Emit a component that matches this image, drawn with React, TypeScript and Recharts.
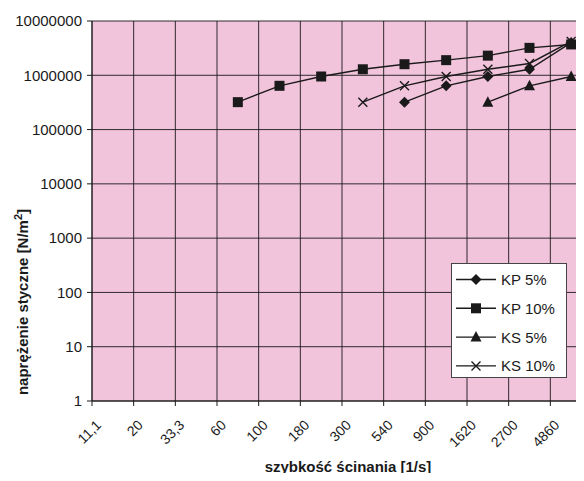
import React from "react"
import {
  CartesianGrid,
  Legend,
  Line,
  LineChart,
  XAxis,
  YAxis,
} from "recharts"

const categories = ["11,1", "20", "33,3", "60", "100", "180", "300", "540", "900", "1620", "2700", "4860"]

const kp5 = [null, null, null, null, null, null, null, 320000, 640000, 950000, 1290000, 4000000]
const kp10 = [null, null, null, 320000, 640000, 950000, 1290000, 1600000, 1900000, 2300000, 3200000, 3700000]
const ks5 = [null, null, null, null, null, null, null, null, null, 320000, 640000, 950000]
const ks10 = [null, null, null, null, null, null, 320000, 640000, 950000, 1290000, 1650000, 4200000]

const yTicks = [1, 10, 100, 1000, 10000, 100000, 1000000, 10000000]

const FONT = '"Liberation Sans", Arial, sans-serif'
const INK = "#1a1a1a"
const PINK = "#f2c4dc"

// x sits in the middle of each category slot, so grid lines fall on the slot edges
const data = categories.map((cat, i) => ({
  x: i + 0.5,
  cat,
  kp5: kp5[i],
  kp10: kp10[i],
  ks5: ks5[i],
  ks10: ks10[i],
}))

type Marker = "diamond" | "square" | "triangle" | "cross"

const series: { key: string; name: string; marker: Marker }[] = [
  { key: "kp5", name: "KP 5%", marker: "diamond" },
  { key: "kp10", name: "KP 10%", marker: "square" },
  { key: "ks5", name: "KS 5%", marker: "triangle" },
  { key: "ks10", name: "KS 10%", marker: "cross" },
]

function markerShape(marker: Marker, cx: number, cy: number, key?: string | number) {
  if (cx == null || cy == null || isNaN(cx) || isNaN(cy)) return <g key={key} />
  switch (marker) {
    case "diamond":
      return (
        <path key={key} d={`M${cx},${cy - 5.5}L${cx + 5.5},${cy}L${cx},${cy + 5.5}L${cx - 5.5},${cy}Z`} fill={INK} />
      )
    case "square":
      return <rect key={key} x={cx - 5} y={cy - 5} width={10} height={10} fill={INK} />
    case "triangle":
      return (
        <path key={key} d={`M${cx},${cy - 6}L${cx + 5.5},${cy + 4.5}L${cx - 5.5},${cy + 4.5}Z`} fill={INK} />
      )
    default:
      return (
        <path
          key={key}
          d={`M${cx - 4.5},${cy - 4.5}L${cx + 4.5},${cy + 4.5}M${cx + 4.5},${cy - 4.5}L${cx - 4.5},${cy + 4.5}`}
          stroke={INK}
          strokeWidth={1.4}
          fill="none"
        />
      )
  }
}

function XTick(props: any) {
  const { x, y, payload } = props
  const label = categories[payload.value]
  if (label == null) return null
  const tx = x + 10
  const ty = y + 18
  return (
    <text
      x={tx}
      y={ty}
      textAnchor="end"
      transform={`rotate(-45 ${tx} ${ty})`}
      fontSize={14}
      fontFamily={FONT}
      fill={INK}
    >
      {label}
    </text>
  )
}

function XTitle() {
  return (
    <text
      x={348}
      y={472}
      textAnchor="middle"
      fontSize={15}
      fontWeight="bold"
      fontFamily={FONT}
      fill={INK}
    >
      szybkość ścinania [1/s]
    </text>
  )
}

function YTitle() {
  return (
    <text
      x={28}
      y={302}
      transform="rotate(-90 28 302)"
      textAnchor="middle"
      fontSize={15}
      fontWeight="bold"
      fontFamily={FONT}
      fill={INK}
    >
      naprężenie styczne [N/m
      <tspan dy={-6} fontSize={11}>2</tspan>
      <tspan dy={6}>]</tspan>
    </text>
  )
}

function LegendBox() {
  return (
    <div
      style={{
        width: 116,
        height: 115,
        background: "#fff",
        border: "1px solid #444",
        boxSizing: "border-box",
      }}
    >
      <svg width={114} height={113}>
        {series.map((s, i) => {
          const cy = 15.5 + i * 28.8
          return (
            <g key={s.key}>
              <line x1={4} x2={44} y1={cy} y2={cy} stroke={INK} strokeWidth={1.4} />
              {markerShape(s.marker, 24, cy)}
              <text x={49} y={cy + 5.5} fontSize={15} fontFamily={FONT} fill={INK}>
                {s.name}
              </text>
            </g>
          )
        })}
      </svg>
    </div>
  )
}

export default function App() {
  return (
    <div
      style={{
        position: "relative",
        margin: -8,
        width: 584,
        height: 481,
        overflow: "hidden",
        background: "#fff",
      }}
    >
      <LineChart
        width={600}
        height={481}
        data={data}
        margin={{ top: 21, right: 8, bottom: 0, left: 0 }}
      >
        <CartesianGrid stroke={INK} strokeOpacity={0.9} fill={PINK} fillOpacity={1} />
        <XAxis
          type="number"
          dataKey="x"
          domain={[0, 12]}
          ticks={[0, 1, 2, 3, 4, 5, 6, 7, 8, 9, 10, 11, 12]}
          interval={0}
          height={80}
          tick={<XTick />}
          tickSize={5}
          stroke={INK}
          label={<XTitle />}
        />
        <YAxis
          scale="log"
          domain={[1, 10000000]}
          ticks={yTicks}
          interval={0}
          allowDataOverflow
          width={92}
          tickSize={5}
          tickMargin={5}
          stroke={INK}
          tick={{ fontSize: 15, fontFamily: FONT, fill: INK }}
          label={<YTitle />}
        />
        <Legend
          layout="vertical"
          align="center"
          verticalAlign="middle"
          content={<LegendBox />}
          wrapperStyle={{ left: 451, top: 263, width: 116, height: 115 }}
        />
        {series.map((s) => (
          <Line
            key={s.key}
            dataKey={s.key}
            name={s.name}
            stroke={INK}
            strokeWidth={1.4}
            isAnimationActive={false}
            dot={(p: any) => markerShape(s.marker, p.cx, p.cy, p.key ?? p.index)}
            activeDot={false}
          />
        ))}
      </LineChart>
    </div>
  )
}
